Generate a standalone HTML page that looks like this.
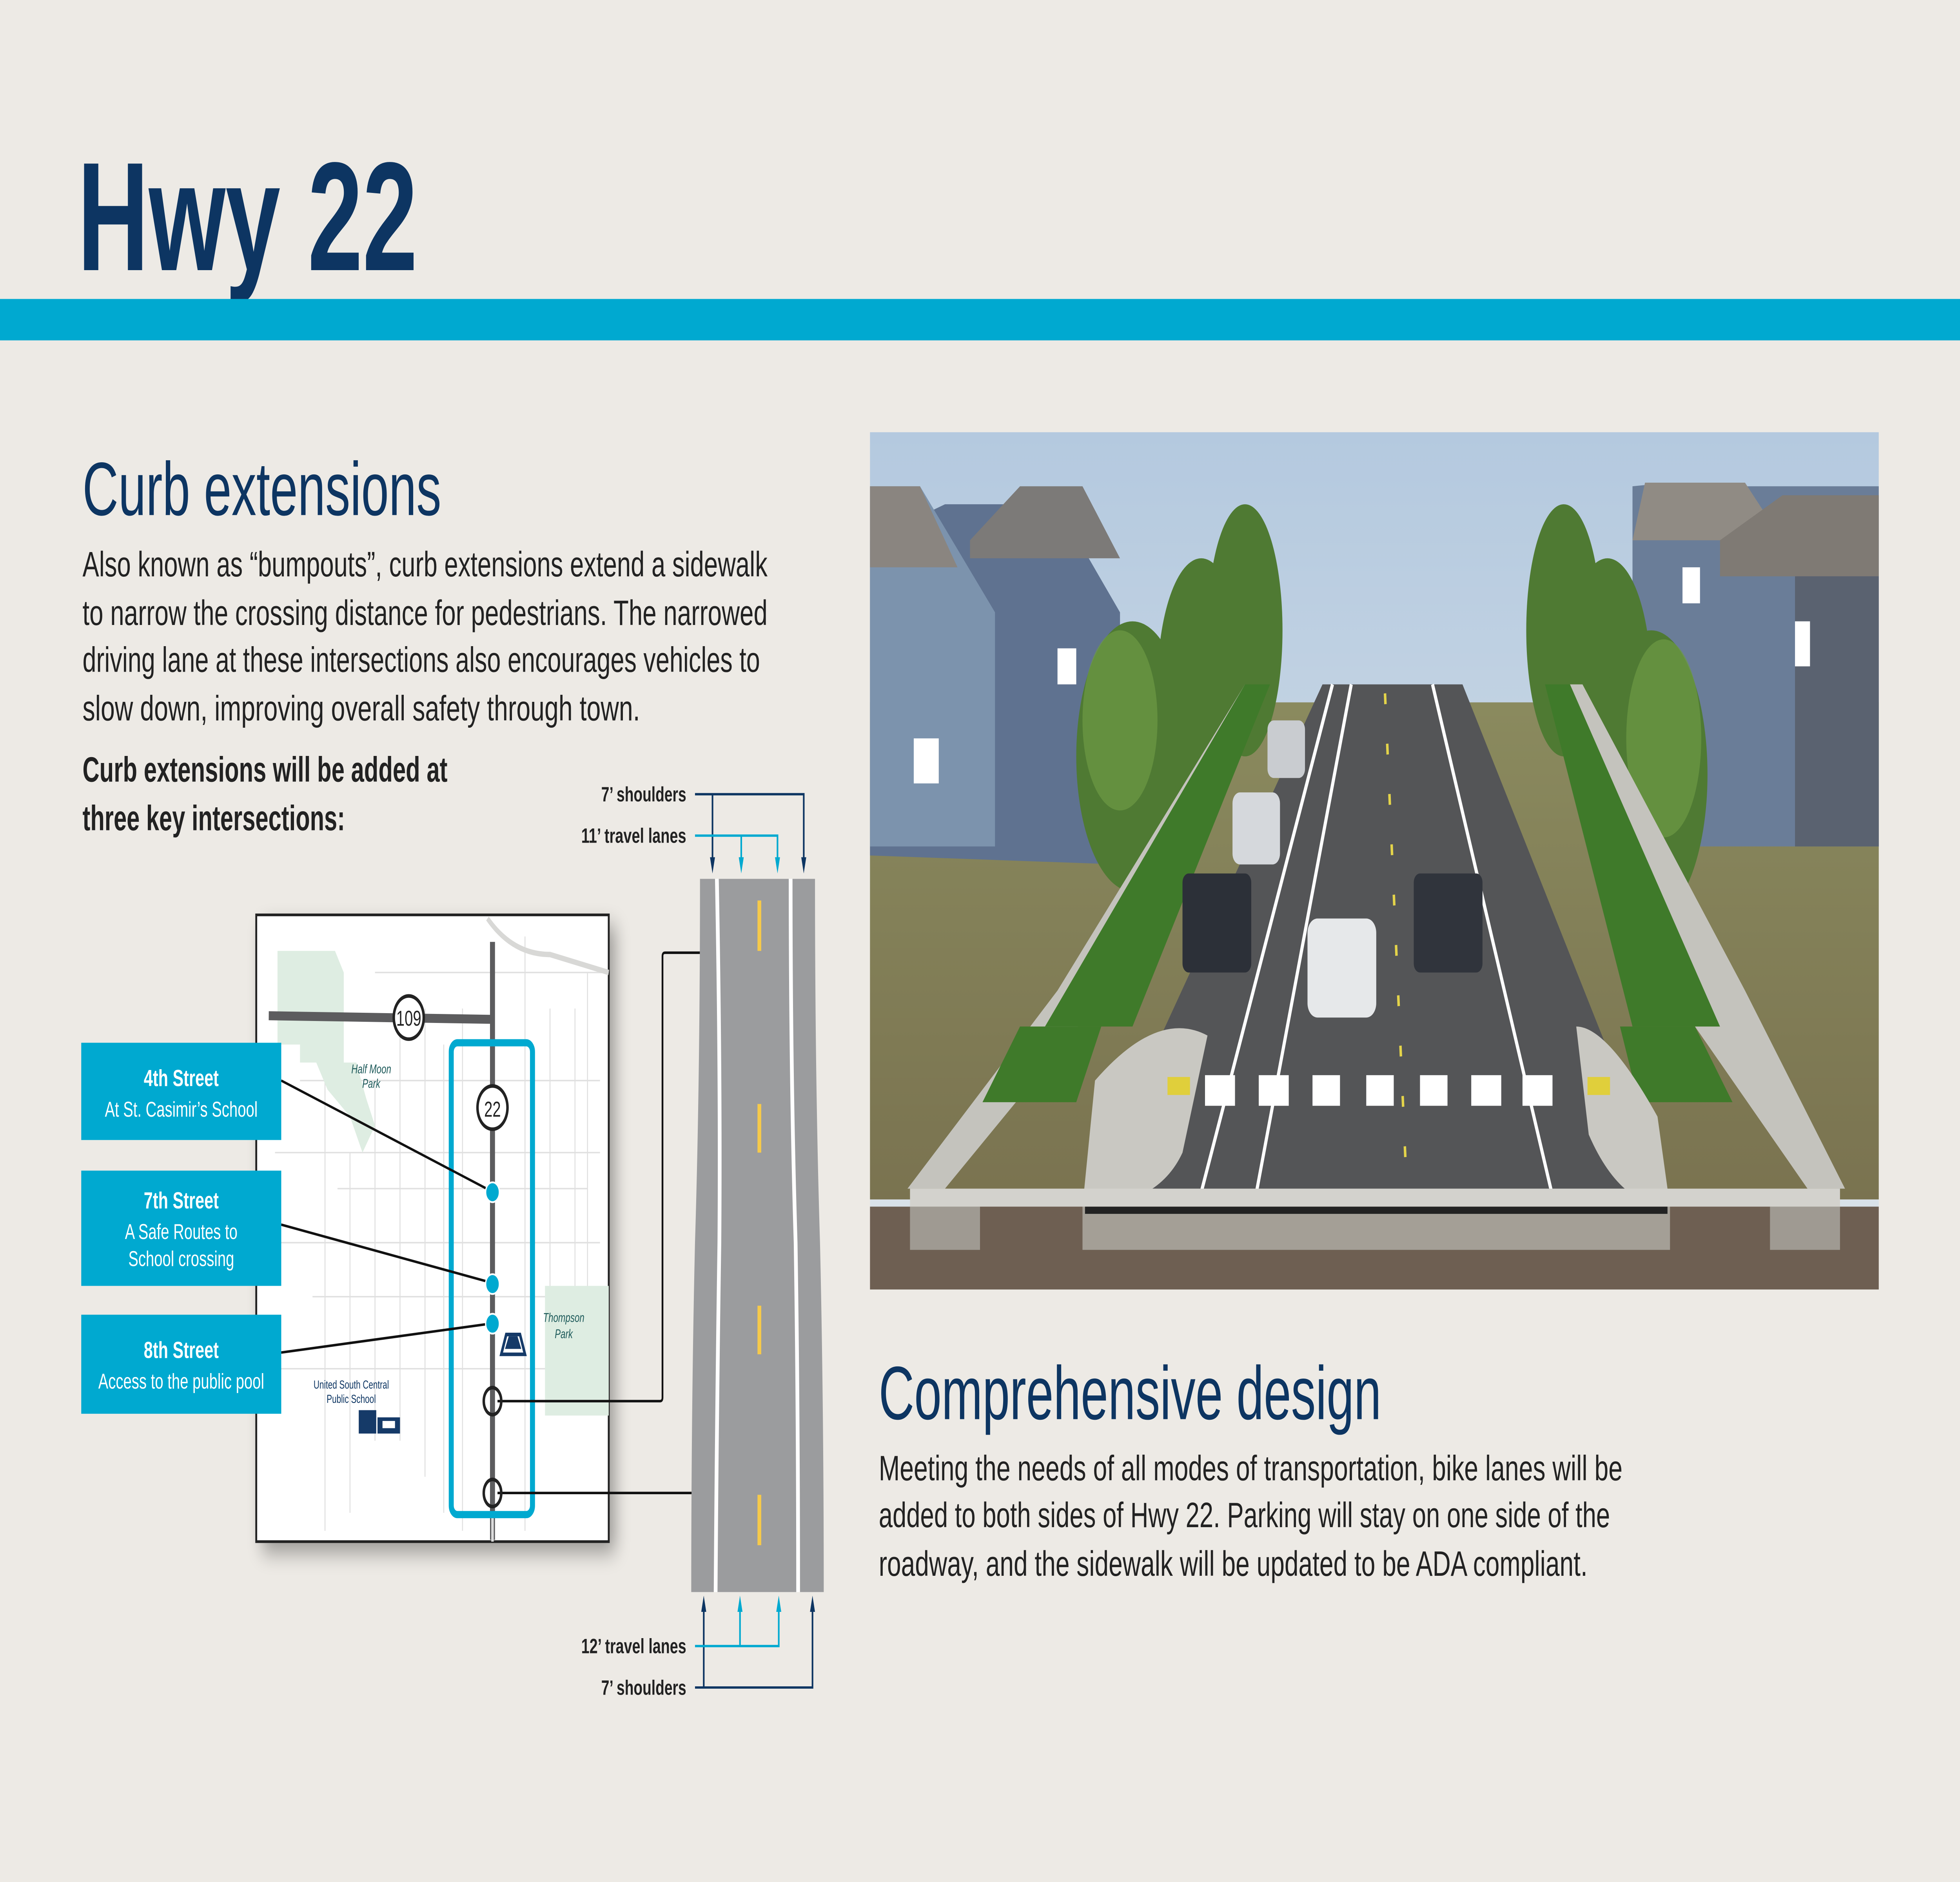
<!DOCTYPE html>
<html><head><meta charset="utf-8"><style>html,body{margin:0;padding:0;background:#edeae5;width:100vw;height:100vh;overflow:hidden}svg{display:block;width:100vw;height:100vh}</style></head>
<body>
<svg xmlns="http://www.w3.org/2000/svg" viewBox="0 0 1568 1045" preserveAspectRatio="none" font-family="Liberation Sans, DejaVu Sans, sans-serif">
<defs>
<linearGradient id="sky" x1="0" y1="0" x2="0" y2="1"><stop offset="0" stop-color="#b4c9df"/><stop offset="1" stop-color="#dde5ea"/></linearGradient>
<linearGradient id="grass" x1="0" y1="0" x2="0" y2="1"><stop offset="0" stop-color="#8a8a5e"/><stop offset="1" stop-color="#7a7350"/></linearGradient>
<filter id="sh" x="-20%" y="-20%" width="150%" height="150%"><feGaussianBlur stdDeviation="6"/></filter>
</defs>
<rect width="1568" height="1045" fill="#edeae5"/>
<text x="62" y="150" font-size="86" font-weight="bold" fill="#0d3562" textLength="272" lengthAdjust="spacingAndGlyphs">Hwy 22</text>
<rect x="0" y="166" width="1568" height="23" fill="#00a9d0"/>

<text x="66" y="286" font-size="42" fill="#0d3562" textLength="287" lengthAdjust="spacingAndGlyphs">Curb extensions</text>
<g font-size="19.5" fill="#222">
<text x="66" y="320" textLength="548" lengthAdjust="spacingAndGlyphs">Also known as “bumpouts”, curb extensions extend a sidewalk</text>
<text x="66" y="347" textLength="548" lengthAdjust="spacingAndGlyphs">to narrow the crossing distance for pedestrians. The narrowed</text>
<text x="66" y="373" textLength="542" lengthAdjust="spacingAndGlyphs">driving lane at these intersections also encourages vehicles to</text>
<text x="66" y="400" textLength="446" lengthAdjust="spacingAndGlyphs">slow down, improving overall safety through town.</text>
<text x="66" y="434" font-weight="bold" textLength="292" lengthAdjust="spacingAndGlyphs">Curb extensions will be added at</text>
<text x="66" y="461" font-weight="bold" textLength="210" lengthAdjust="spacingAndGlyphs">three key intersections:</text>
</g>

<rect x="210" y="514" width="282" height="348" fill="#000" opacity="0.35" filter="url(#sh)"/>
<rect x="205" y="508" width="282" height="348" fill="#fff" stroke="#222" stroke-width="1.5"/>
<g stroke="#e0e0e0" stroke-width="0.8" fill="none">
<path d="M220 640H480M220 690H480M220 760H480M240 600H480M250 720H480M300 540H487M270 660H470"/>
<path d="M260 600V850M280 640V840M300 600V800M340 560V820M370 560V850M420 520V850M440 560V720M460 560V720M470 540V720M320 560V800M355 580V840"/>
</g>
<path d="M390 510 Q410 530 440 530 L487 540" stroke="#d8d8d6" stroke-width="3" fill="none"/>
<path d="M222 528H268L275 540V590H240V580H222Z" fill="#deede2"/>
<path d="M253 590H285L293 610L300 625L290 640L280 620L262 605Z" fill="#deede2"/>
<rect x="436" y="714" width="51" height="72" fill="#deede2"/>
<line x1="394" y1="523" x2="394" y2="855" stroke="#5c5c5e" stroke-width="4"/>
<line x1="394" y1="840" x2="394" y2="856" stroke="#ddd" stroke-width="2"/>
<line x1="215" y1="564" x2="394" y2="566" stroke="#5c5c5e" stroke-width="5"/>
<circle cx="327" cy="565" r="12" fill="#fff" stroke="#222" stroke-width="2"/>
<text x="327" y="569.5" font-size="12" text-anchor="middle" fill="#222">109</text>
<rect x="361" y="579" width="65" height="262" rx="5" fill="none" stroke="#00a9d0" stroke-width="4"/>
<circle cx="394" cy="615" r="12" fill="#fff" stroke="#222" stroke-width="2"/>
<text x="394" y="620" font-size="12" text-anchor="middle" fill="#222">22</text>
<g font-size="7" font-style="italic" fill="#1d5a5a" text-anchor="middle"><text x="297" y="596">Half Moon</text><text x="297" y="604">Park</text><text x="451" y="734">Thompson</text><text x="451" y="743">Park</text></g>
<g font-size="6.5" fill="#0d3562" text-anchor="middle"><text x="281" y="771">United South Central</text><text x="281" y="779">Public School</text></g>
<rect x="287" y="783" width="14" height="13" fill="#153a68"/><rect x="302" y="787" width="18" height="9" fill="#153a68"/><rect x="306" y="789" width="10" height="4" fill="#fff"/>
<path d="M401 752L405 741H416L420 752Z" fill="none" stroke="#153a68" stroke-width="2"/><path d="M404 749L407 742H414L417 749Z" fill="#153a68"/>
<g stroke="#111" stroke-width="1.4" fill="none">
<line x1="225" y1="600" x2="392" y2="661"/><line x1="225" y1="680" x2="392" y2="712"/><line x1="225" y1="751" x2="392" y2="735"/>
<path d="M398 778H528Q530 778 530 776V531Q530 529 532 529H567"/>
<path d="M398 829H560"/>
</g>
<circle cx="567" cy="529" r="1.8" fill="#111"/><circle cx="560" cy="829" r="1.8" fill="#111"/>
<g fill="#00a9d0" stroke="#fff" stroke-width="1"><circle cx="394" cy="662" r="5.5"/><circle cx="394" cy="713" r="5.5"/><circle cx="394" cy="735" r="5.5"/></g>
<g fill="none" stroke="#222" stroke-width="2"><ellipse cx="394" cy="778" rx="7" ry="7.5"/><ellipse cx="394" cy="829" rx="7" ry="7.5"/></g>

<g fill="#00a9d0"><rect x="65" y="579" width="160" height="54"/><rect x="65" y="650" width="160" height="64"/><rect x="65" y="730" width="160" height="55"/></g>
<g fill="#fff" text-anchor="middle">
<text x="145" y="603" font-size="13" font-weight="bold">4th Street</text>
<text x="145" y="620" font-size="12">At St. Casimir’s School</text>
<text x="145" y="671" font-size="13" font-weight="bold">7th Street</text>
<text x="145" y="688" font-size="12">A Safe Routes to</text>
<text x="145" y="703" font-size="12">School crossing</text>
<text x="145" y="754" font-size="13" font-weight="bold">8th Street</text>
<text x="145" y="771" font-size="12">Access to the public pool</text>
</g>

<path d="M560 488H652Q652 600 656 690Q659 780 659 884H553Q553 780 556 690Q560 600 560 488Z" fill="#9b9c9e"/>
<path d="M572 488Q575 600 574 690Q572 780 571 884H640Q640 780 638 690Q634 600 634 488Z" fill="#fff"/>
<path d="M575 488Q578 600 577 690Q575 780 574 884H637Q637 780 635 690Q631 600 631 488Z" fill="#9b9c9e"/>
<g fill="#f6c94a"><rect x="606" y="500" width="3" height="28"/><rect x="606" y="613" width="3" height="27"/><rect x="606" y="725" width="3" height="27"/><rect x="606" y="830" width="3" height="28"/></g>

<g font-size="11.5" fill="#222" text-anchor="end" font-weight="bold">
<text x="549" y="445" textLength="68" lengthAdjust="spacingAndGlyphs">7’ shoulders</text>
<text x="549" y="468" textLength="84" lengthAdjust="spacingAndGlyphs">11’ travel lanes</text>
<text x="549" y="918" textLength="84" lengthAdjust="spacingAndGlyphs">12’ travel lanes</text>
<text x="549" y="941" textLength="68" lengthAdjust="spacingAndGlyphs">7’ shoulders</text>
</g>
<g fill="none" stroke-width="1.3">
<path d="M556 441H643V478M570 441V478" stroke="#0d3562"/>
<path d="M556 464H622V478M593 464V478" stroke="#00a9d0"/>
<path d="M556 937H650V892M563 937V892" stroke="#0d3562"/>
<path d="M556 914H623V892M592 914V892" stroke="#00a9d0"/>
</g>
<g fill="#0d3562"><path d="M568 476H572L570 485Z"/><path d="M641 476H645L643 485Z"/><path d="M561 895H565L563 886Z"/><path d="M648 895H652L650 886Z"/></g>
<g fill="#00a9d0"><path d="M591 476H595L593 485Z"/><path d="M620 476H624L622 485Z"/><path d="M590 895H594L592 886Z"/><path d="M621 895H625L623 886Z"/></g>

<g transform="translate(696 240)">
<rect width="807" height="476" fill="url(#sky)"/>
<rect y="150" width="807" height="276" fill="url(#grass)"/>
<path d="M0 60L60 40L150 40L200 100V240L0 235Z" fill="#5f7290"/>
<path d="M80 60L120 30H170L200 70H80Z" fill="#7c7a78"/>
<path d="M0 30H40L100 100V230H0Z" fill="#7c93ad"/>
<path d="M0 30H40L70 75H0Z" fill="#8a8580"/>
<rect x="35" y="170" width="20" height="25" fill="#fff"/><rect x="150" y="120" width="15" height="20" fill="#fff"/>
<path d="M610 30L640 28L700 30L807 30V230H610Z" fill="#6a7d98"/>
<path d="M620 28H700L730 60H610Z" fill="#908b84"/>
<path d="M680 60L730 35H807V80H680Z" fill="#7f7a74"/>
<rect x="740" y="80" width="67" height="150" fill="#5a6270"/>
<rect x="650" y="75" width="14" height="20" fill="#fff"/><rect x="740" y="105" width="12" height="25" fill="#fff"/>
<g fill="#4f7a33">
<ellipse cx="210" cy="180" rx="45" ry="75"/><ellipse cx="265" cy="140" rx="35" ry="70"/><ellipse cx="300" cy="110" rx="30" ry="70"/>
<ellipse cx="555" cy="110" rx="30" ry="70"/><ellipse cx="590" cy="140" rx="35" ry="70"/><ellipse cx="625" cy="190" rx="45" ry="80"/>
</g>
<g fill="#6d9a45" opacity="0.7"><ellipse cx="200" cy="160" rx="30" ry="50"/><ellipse cx="635" cy="170" rx="30" ry="55"/></g>
<path d="M150 310L300 140H310L190 310L60 420H30Z" fill="#c4c3bd"/>
<path d="M560 140H570L700 310L780 420H750L640 310Z" fill="#c4c3bd"/>
<path d="M300 140H320L210 330H140Z" fill="#3f7a2a"/>
<path d="M540 140H560L680 330H610Z" fill="#3f7a2a"/>
<path d="M90 372L120 330H185L165 372Z" fill="#3f7a2a"/>
<path d="M615 372L600 330H660L690 372Z" fill="#3f7a2a"/>
<path d="M362 140H474L640 430H170Z" fill="#545557"/>
<g stroke="#fff" stroke-width="2.5" fill="none"><path d="M370 140L262 430M385 140L307 430M450 140L548 430"/></g>
<path d="M412 145L430 430" stroke="#e4d44a" stroke-width="2" stroke-dasharray="6 22" fill="none"/>
<path d="M170 430L180 360Q230 320 270 335L250 400Q230 430 170 430Z" fill="#c9c8c2"/>
<path d="M640 430L630 380Q590 330 565 330L575 390Q600 430 640 430Z" fill="#c9c8c2"/>
<g fill="#fff"><rect x="268" y="357" width="24" height="17"/><rect x="311" y="357" width="24" height="17"/><rect x="354" y="357" width="22" height="17"/><rect x="397" y="357" width="22" height="17"/><rect x="440" y="357" width="22" height="17"/><rect x="481" y="357" width="24" height="17"/><rect x="522" y="357" width="24" height="17"/></g>
<rect x="238" y="358" width="18" height="10" fill="#e0cf3b"/><rect x="574" y="358" width="18" height="10" fill="#e0cf3b"/>
<rect x="250" y="245" width="55" height="55" rx="5" fill="#2c3038"/>
<rect x="350" y="270" width="55" height="55" rx="8" fill="#e6e8ea"/>
<rect x="435" y="245" width="55" height="55" rx="5" fill="#30343c"/>
<rect x="290" y="200" width="38" height="40" rx="6" fill="#d5d8dc"/>
<rect x="318" y="160" width="30" height="32" rx="5" fill="#c9ccd0"/>
<rect x="32" y="420" width="744" height="10" fill="#d3d2cd"/>
<rect x="0" y="430" width="807" height="46" fill="#6e5f52"/>
<rect x="32" y="430" width="56" height="24" fill="#9f9a92"/>
<rect x="170" y="430" width="470" height="24" fill="#a49f96"/>
<rect x="720" y="430" width="56" height="24" fill="#9f9a92"/>
<rect x="172" y="430" width="466" height="4" fill="#222"/>
</g>

<text x="703" y="788" font-size="42" fill="#0d3562" textLength="402" lengthAdjust="spacingAndGlyphs">Comprehensive design</text>
<g font-size="19.5" fill="#222">
<text x="703" y="822" textLength="595" lengthAdjust="spacingAndGlyphs">Meeting the needs of all modes of transportation, bike lanes will be</text>
<text x="703" y="848" textLength="585" lengthAdjust="spacingAndGlyphs">added to both sides of Hwy 22. Parking will stay on one side of the</text>
<text x="703" y="875" textLength="567" lengthAdjust="spacingAndGlyphs">roadway, and the sidewalk will be updated to be ADA compliant.</text>
</g>
</svg>
</body></html>
